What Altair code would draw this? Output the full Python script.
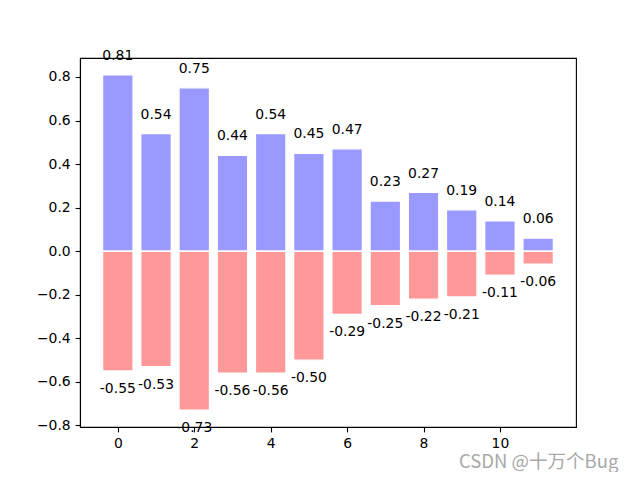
import altair as alt
import pandas as pd

idx = list(range(12))
pos_vals = [0.81, 0.54, 0.75, 0.44, 0.54, 0.45, 0.47, 0.23, 0.27, 0.19, 0.14, 0.06]
neg_vals = [-0.55, -0.53, -0.73, -0.56, -0.56, -0.50, -0.29, -0.25, -0.22, -0.21, -0.11, -0.06]
x_ticks = [0, 2, 4, 6, 8, 10]
y_ticks = [-0.8, -0.6, -0.4, -0.2, 0.0, 0.2, 0.4, 0.6, 0.8]

df = pd.DataFrame({"i": idx, "pos": pos_vals, "neg": neg_vals})
df["x0"] = df["i"] - 0.4
df["x1"] = df["i"] + 0.4
df["zero"] = 0.0
df["pos_lab"] = df["pos"].map(lambda v: "%.2f" % v)
df["neg_lab"] = df["neg"].map(lambda v: "-%.2f" % abs(v))
df["pos_y"] = df["pos"] + 0.05
df["neg_y"] = df["neg"] - 0.05

FONT = "DejaVu Sans"
xs = alt.Scale(domain=[-0.99, 11.99], nice=False, zero=False)
ys = alt.Scale(domain=[-0.807, 0.887], nice=False, zero=False)

xaxis = alt.Axis(values=x_ticks, format="d", grid=False, title=None, labelFont=FONT,
                 labelFontSize=13.9, labelColor="black", tickColor="black", domainColor="black",
                 tickSize=4.9, tickWidth=1.1, domainWidth=1.1, labelPadding=4.9, labelFlush=False)
yaxis = alt.Axis(values=y_ticks, format=".1f", grid=False, title=None, labelFont=FONT,
                 labelFontSize=13.9, labelColor="black", tickColor="black", domainColor="black",
                 tickSize=4.9, tickWidth=1.1, domainWidth=1.1, labelPadding=4.9, labelFlush=False)

base = alt.Chart(df)

pos_bars = base.mark_rect(color="#9999ff", stroke="white", strokeWidth=1.4).encode(
    x=alt.X("x0:Q", scale=xs, axis=xaxis), x2="x1:Q",
    y=alt.Y("zero:Q", scale=ys, axis=yaxis), y2="pos:Q")
neg_bars = base.mark_rect(color="#ff9999", stroke="white", strokeWidth=1.4).encode(
    x=alt.X("x0:Q", scale=xs), x2="x1:Q",
    y=alt.Y("zero:Q", scale=ys), y2="neg:Q")
pos_text = base.mark_text(font=FONT, fontSize=13.9, color="black", baseline="bottom", align="center", dy=-1).encode(
    x=alt.X("i:Q", scale=xs), y=alt.Y("pos_y:Q", scale=ys), text="pos_lab:N")
neg_text = base.mark_text(font=FONT, fontSize=13.9, color="black", baseline="top", align="center", dy=0).encode(
    x=alt.X("i:Q", scale=xs), y=alt.Y("neg_y:Q", scale=ys), text="neg_lab:N")
wm = alt.Chart(pd.DataFrame({"t": ["CSDN @十万个Bug"]})).mark_text(
    font="Noto Sans CJK SC", fontSize=18.5, color="#a8a8a8", align="left", baseline="alphabetic").encode(
    x=alt.value(379), y=alt.value(410), text="t:N")

chart = alt.layer(pos_bars, neg_bars, pos_text, neg_text, wm).properties(
    width=496, height=369,
    background="white",
    autosize=alt.AutoSizeParams(type="none"),
    padding={"left": 72, "top": 50, "right": 56, "bottom": 45},
).configure_view(stroke="black", strokeWidth=1.1)

chart.save("out.html", embed_options={"renderer": "svg", "actions": False})
